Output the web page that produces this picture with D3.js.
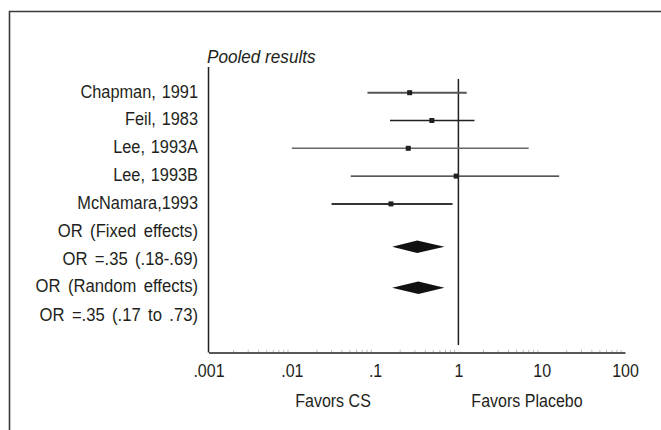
<!DOCTYPE html>
<html><head><meta charset="utf-8">
<script src="https://cdn.jsdelivr.net/npm/d3@7"></script>
<style>
html,body{margin:0;padding:0;background:#fff;}
text{font-family:"Liberation Sans","Arial",sans-serif;fill:#231f20;}
</style></head>
<body><svg id="c" width="661" height="430"></svg>
<script>
// Data
const studies = ["Chapman, 1991", "Feil, 1983", "Lee, 1993A", "Lee, 1993B", "McNamara,1993"];
const studyOR = [0.26, 0.48, 0.25, 0.94, 0.155];
const studyLo = [0.081, 0.151, 0.010, 0.051, 0.030];
const studyHi = [1.26, 1.56, 6.98, 16.2, 0.85];
const pooledNames = ["Fixed", "Random"];
const pooledOR = [0.32, 0.33];
const pooledLo = [0.16, 0.16];
const pooledHi = [0.68, 0.68];
const summaryLabels = ["OR (Fixed effects)", "OR =.35 (.18-.69)", "OR (Random effects)", "OR =.35 (.17 to .73)"];
const tickValues = [0.001, 0.01, 0.1, 1, 10, 100];
const tickLabels = [".001", ".01", ".1", "1", "10", "100"];
const title = "Pooled results";
const axisNotes = ["Favors CS", "Favors Placebo"];

const FS = 18.5;
const svg = d3.select("#c");
const x = d3.scaleLog().domain([0.001, 100]).range([208.5, 625]);
const rowY = i => 92.7 + i * 27.8;
const pooledY = [246.7, 287.7];

// condensed text helper
const probe = svg.append("text").attr("font-size", FS).text(studies[0]);
const SX = 114 / probe.node().getComputedTextLength();
probe.remove();
function ctext(g, tx, ty, str, anchor, italic, sx, ws) {
  return g.append("text")
    .attr("transform", `translate(${tx},${ty}) scale(${sx || SX},1)`)
    .attr("text-anchor", anchor || "start")
    .attr("font-size", FS)
    .attr("font-style", italic ? "italic" : null)
    .attr("word-spacing", ws || null)
    .text(str);
}

// frame
svg.append("path").attr("d", "M9.5,430 V11.5 H661").attr("fill", "none").attr("stroke", "#3a3a3a").attr("stroke-width", 1.6);

// title
ctext(svg, 207, 63, title, "start", true, SX * 1.07);

// y axis line
svg.append("line").attr("x1", 208.5).attr("x2", 208.5).attr("y1", 67).attr("y2", 352.5).attr("stroke", "#231f20").attr("stroke-width", 1.5);

// x axis
const ax = svg.append("g").attr("transform", "translate(0,352.5)")
  .call(d3.axisBottom(x).tickValues(tickValues).tickFormat((d, i) => tickLabels[i]).tickSize(0));
ax.select(".domain").attr("stroke", "#231f20").attr("stroke-width", 1.5);
ax.selectAll(".tick text")
  .attr("font-size", FS).attr("font-family", null).attr("fill", "#231f20")
  .attr("y", null).attr("dy", null)
  .attr("transform", `translate(0,24) scale(${SX},1)`);
// minor ticks
const minor = [];
for (let e = -3; e < 2; e++) for (let k = 2; k <= 9; k++) minor.push(k * Math.pow(10, e));
svg.append("g").selectAll("line").data(minor).join("line")
  .attr("x1", d => x(d)).attr("x2", d => x(d)).attr("y1", 352).attr("y2", 349.8)
  .attr("stroke", "#aaa").attr("stroke-width", 0.8);

// reference line at OR=1
svg.append("line").attr("x1", x(1)).attr("x2", x(1)).attr("y1", 79).attr("y2", 345).attr("stroke", "#231f20").attr("stroke-width", 1.5);

// study labels
const lg = svg.append("g");
studies.forEach((s, i) => ctext(lg, 198, rowY(i) + 4.8, s, "end", false, SX * 1.02, 1.5));

// summary labels
const sumY = [236.6, 265, 291.6, 321];
summaryLabels.forEach((s, i) => ctext(lg, 198, sumY[i], s, "end", false, SX * 1.04, 3));

// CIs
const lineColor = ["#555", "#231f20", "#666", "#231f20", "#333"];
const lineW = [2, 1.3, 1.6, 1.3, 2];
svg.append("g").selectAll("line").data(studies).join("line")
  .attr("x1", (d, i) => x(studyLo[i])).attr("x2", (d, i) => x(studyHi[i]))
  .attr("y1", (d, i) => rowY(i)).attr("y2", (d, i) => rowY(i))
  .attr("stroke", (d, i) => lineColor[i]).attr("stroke-width", (d, i) => lineW[i]);
svg.append("g").selectAll("rect").data(studies).join("rect")
  .attr("x", (d, i) => x(studyOR[i]) - 2.5).attr("y", (d, i) => rowY(i) - 2.5)
  .attr("width", 5).attr("height", 5).attr("fill", "#231f20");

// diamonds
svg.append("g").selectAll("path").data(pooledNames).join("path")
  .attr("d", (d, i) => {
    const y = pooledY[i], h = 6.3;
    return `M${x(pooledLo[i])},${y} L${x(pooledOR[i])},${y - h} L${x(pooledHi[i])},${y} L${x(pooledOR[i])},${y + h} Z`;
  }).attr("fill", "#111");

// axis notes
ctext(svg, 333, 406.5, axisNotes[0], "middle");
ctext(svg, 527, 406.5, axisNotes[1], "middle");
</script></body></html>
